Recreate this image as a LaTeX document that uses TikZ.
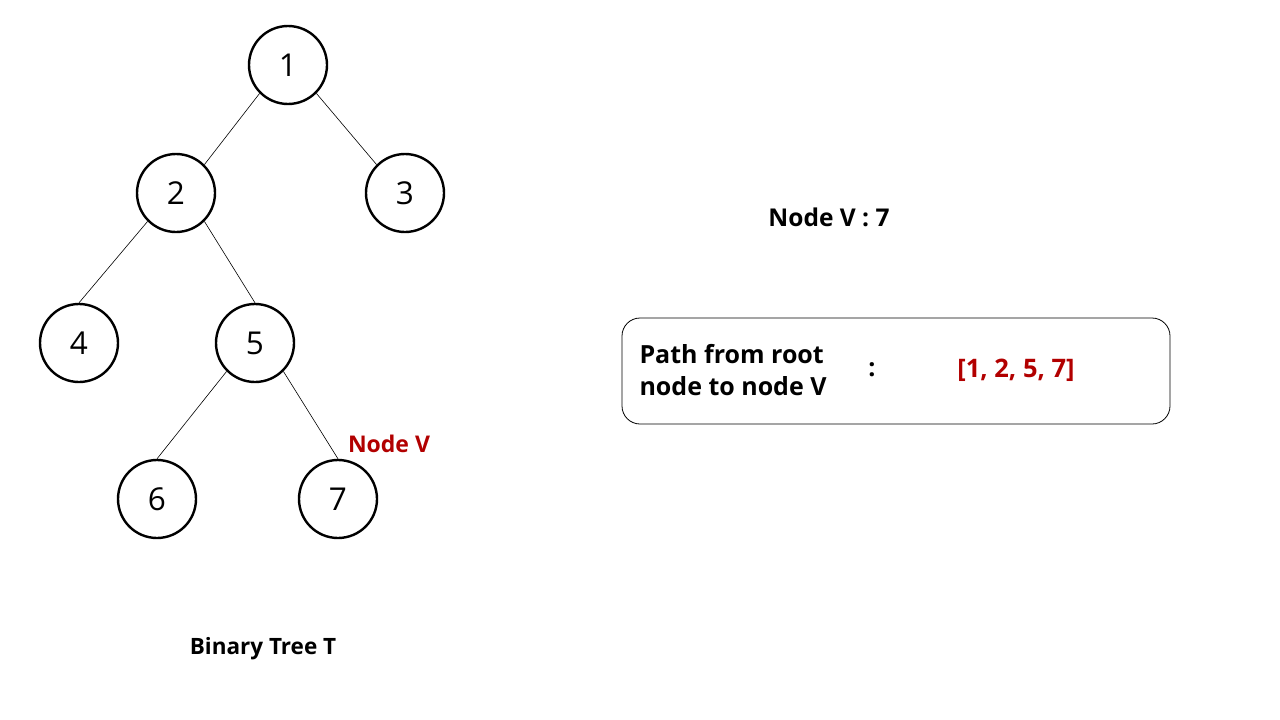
\documentclass[tikz,border=0pt]{standalone}
\usepackage{fontspec}
\setmainfont{Open Sans}
\definecolor{darkred}{HTML}{B20000}
\begin{document}
\begin{tikzpicture}[x=1pt,y=-1pt,
  tnode/.style={circle,draw,line width=2.4pt,minimum size=78pt,inner sep=0pt,font=\fontsize{31.5}{33}\selectfont},
  edge/.style={line width=0.6pt},
  lbl/.style={font=\bfseries\fontsize{22.5}{26}\selectfont}]
\useasboundingbox (0,0) rectangle (1280,720);
\node[tnode] (n1) at (288,65) {1};
\node[tnode] (n2) at (176,193) {2};
\node[tnode] (n3) at (405,193) {3};
\node[tnode] (n4) at (79,343) {4};
\node[tnode] (n5) at (255,343) {5};
\node[tnode] (n6) at (157,499) {6};
\node[tnode] (n7) at (338,499) {7};
\draw[edge] (n1.south west) -- (n2.north east);
\draw[edge] (n1.south east) -- (n3.north west);
\draw[edge] (n2.south west) -- (n4.north);
\draw[edge] (n2.south east) -- (n5.north);
\draw[edge] (n5.south west) -- (n6.north);
\draw[edge] (n5.south east) -- (n7.north);
\node[lbl,font=\bfseries\fontsize{23}{26}\selectfont,text=darkred] (nv) at (389,444) {Node V};
\node[lbl] (bt) at (263,649) {Binary Tree T};
\node[lbl,font=\bfseries\fontsize{24.5}{28}\selectfont] (title) at (829,217) {Node V : 7};
\node[draw,rounded corners=18pt,line width=0.8pt,minimum width=548pt,minimum height=106pt] (box) at (896,371) {};
\node[lbl,font=\bfseries\fontsize{25}{32}\selectfont,align=left,anchor=west] (path) at (636,370) {Path from root\\node to node V};
\node[lbl,font=\bfseries\fontsize{25}{28}\selectfont] (colon) at (872,370) {:};
\node[lbl,font=\bfseries\fontsize{25.5}{28}\selectfont,text=darkred] (res) at (1016,370) {[1, 2, 5, 7]};
\end{tikzpicture}
\end{document}
